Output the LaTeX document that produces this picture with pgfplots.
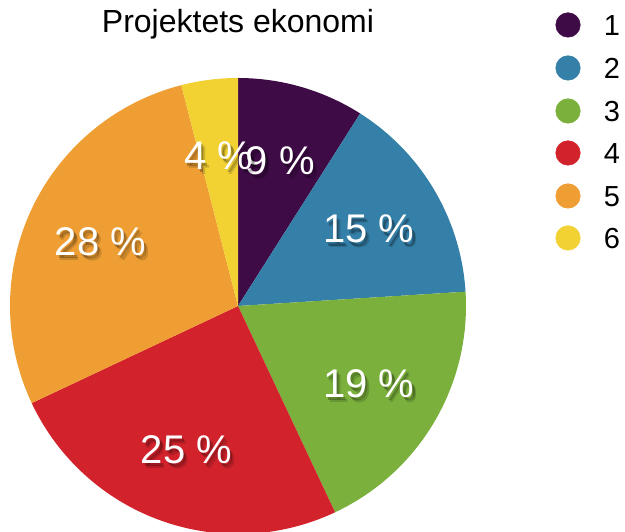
\documentclass[border=0pt]{standalone}
\usepackage{pgfplots}
\pgfplotsset{compat=1.18}
\usepackage{fontspec}
\setmainfont{Liberation Sans}
\definecolor{c1}{HTML}{3F0B47}
\definecolor{c2}{HTML}{3580A8}
\definecolor{c3}{HTML}{7BB03C}
\definecolor{c4}{HTML}{D2232C}
\definecolor{c5}{HTML}{EE9E33}
\definecolor{c6}{HTML}{F2D133}
\begin{document}
\begin{tikzpicture}
\useasboundingbox (0,0) rectangle (625pt,532pt);
\begin{axis}[at={(0,0)},anchor=south west,width=625pt,height=532pt,scale only axis,
  xmin=0,xmax=625,ymin=0,ymax=532,hide axis,clip=true]
\def\cx{238}\def\cy{226}\def\R{228}
\foreach \v/\c [remember=\e as \s (initially 90)] in {9/c1,15/c2,19/c3,25/c4,28/c5,4/c6}{
  \pgfmathsetmacro\e{\s-3.6*\v}
  \edef\temp{\noexpand\fill[\c] (axis cs:\cx,\cy) -- ++(\s:\R pt) arc[start angle=\s, end angle=\e, radius=\R pt] -- cycle;}
  \temp
}
\foreach \v [remember=\e as \s (initially 90)] in {9,15,19,25,28,4}{
  \pgfmathsetmacro\e{\s-3.6*\v}
  \pgfmathsetmacro\m{(\s+\e)/2}
  \edef\temp{%
    \noexpand\node[anchor=base,inner sep=0pt,text=black,opacity=0.15,font=\noexpand\fontsize{40}{40}\noexpand\selectfont] at ([shift={(\m:152pt)},xshift=4pt,yshift=-19pt]axis cs:\cx,\cy) {\v\space\noexpand\%};
    \noexpand\node[anchor=base,inner sep=0pt,text=black,opacity=0.25,font=\noexpand\fontsize{40}{40}\noexpand\selectfont] at ([shift={(\m:152pt)},xshift=2.5pt,yshift=-17.5pt]axis cs:\cx,\cy) {\v\space\noexpand\%};
    \noexpand\node[anchor=base,inner sep=0pt,text=white,font=\noexpand\fontsize{40}{40}\noexpand\selectfont] at ([shift={(\m:152pt)},yshift=-14.3pt]axis cs:\cx,\cy) {\v\space\noexpand\%};}
  \temp
}
\node[anchor=base,inner sep=0pt,font=\fontsize{32}{34}\selectfont] at (axis cs:238,499) {Projektets ekonomi};
\addplot[only marks,mark=*,mark size=12.3pt,c1,mark options={draw=c1,fill=c1}] coordinates {(568,507)};
\addplot[only marks,mark=*,mark size=12.3pt,c2,mark options={draw=c2,fill=c2}] coordinates {(568,464)};
\addplot[only marks,mark=*,mark size=12.3pt,c3,mark options={draw=c3,fill=c3}] coordinates {(568,421)};
\addplot[only marks,mark=*,mark size=12.3pt,c4,mark options={draw=c4,fill=c4}] coordinates {(568,379)};
\addplot[only marks,mark=*,mark size=12.3pt,c5,mark options={draw=c5,fill=c5}] coordinates {(568,336)};
\addplot[only marks,mark=*,mark size=12.3pt,c6,mark options={draw=c6,fill=c6}] coordinates {(568,294)};
\foreach \i/\y in {1/507,2/464,3/421,4/379,5/336,6/294}{
  \edef\temp{\noexpand\node[anchor=base,inner sep=0pt,font=\noexpand\fontsize{29}{30}\noexpand\selectfont] at ([yshift=-10.4pt]axis cs:612,\y) {\i};}
  \temp
}
\end{axis}
\end{tikzpicture}
\end{document}
